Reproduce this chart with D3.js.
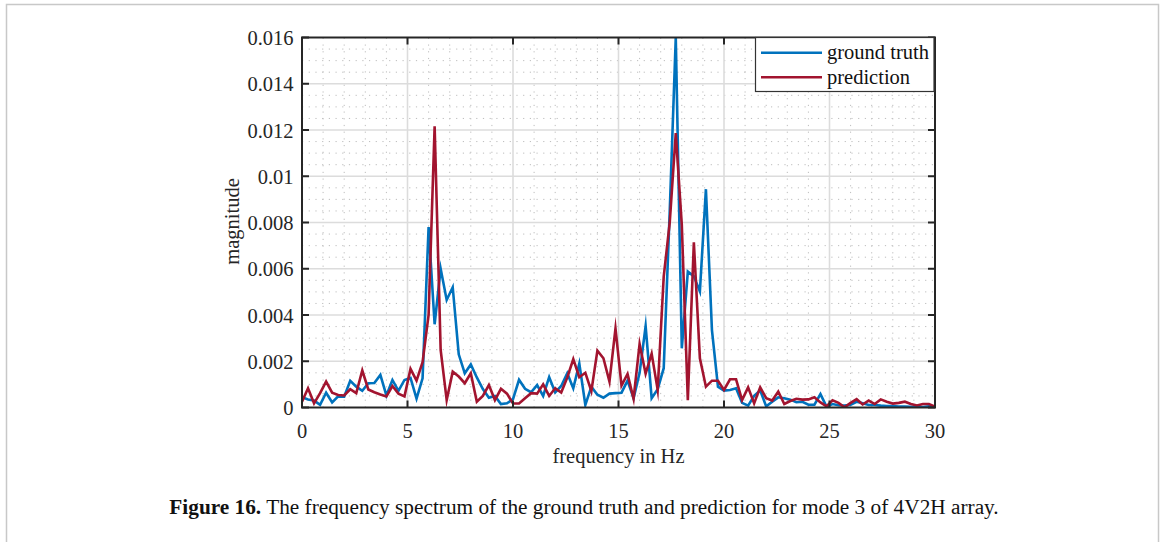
<!DOCTYPE html>
<html>
<head>
<meta charset="utf-8">
<script src="https://cdn.jsdelivr.net/npm/d3@7"></script>
<style>
  body { margin: 0; background: #fff; }
  svg { display: block; font-family: "Liberation Serif", "DejaVu Serif", serif; }
</style>
</head>
<body>
<svg id="canvas" width="1165" height="542"></svg>
<script>
// magnitude readings, in units of 1e-3, one per frequency bin
const groundTruth = [
  0.45, 0.35, 0.3, 0.12, 0.64, 0.22, 0.48, 0.47, 1.15, 0.9,
  0.72, 1.05, 1.06, 1.41, 0.52, 1.19, 0.72, 1.19, 1.28, 0.38,
  1.26, 7.8, 3.6, 6.0, 4.65, 5.2, 2.3, 1.48, 1.86, 1.3,
  0.8, 0.42, 0.5, 0.15, 0.18, 0.36, 1.2, 0.81, 0.66, 0.97,
  0.5, 1.31, 0.65, 0.93, 1.48, 0.83, 1.9, 0.11, 0.9, 0.55,
  0.42, 0.6, 0.62, 0.64, 1.16, 0.4, 1.5, 3.52, 0.4, 0.79,
  1.7, 8.5, 16.0, 2.56, 5.88, 5.67, 5.02, 9.44, 3.35, 0.9,
  0.73, 0.76, 0.83, 0.2, 0.08, 0.5, 0.74, 0.05, 0.25, 0.44,
  0.4, 0.34, 0.23, 0.25, 0.12, 0.12, 0.58, 0.04, 0.15, 0.1,
  0.08, 0.12, 0.25, 0.18, 0.11, 0.11, 0.08, 0.06, 0.06, 0.04,
  0.04, 0.03, 0.03, 0.02, 0.05, 0.01
];
const prediction = [
  0.25, 0.83, 0.18, 0.62, 1.12, 0.64, 0.54, 0.52, 0.79, 0.62,
  1.6, 0.78, 0.66, 0.56, 0.48, 0.93, 0.6, 0.48, 1.67, 1.16,
  1.96, 4.0, 12.16, 2.49, 0.32, 1.55, 1.34, 1.05, 1.48, 0.25,
  0.5, 0.97, 0.32, 0.81, 0.6, 0.17, 0.17, 0.4, 0.62, 0.6,
  1.0, 0.5, 0.83, 0.65, 1.3, 2.09, 1.31, 1.5, 0.71, 2.46,
  2.13, 1.12, 3.42, 0.95, 1.45, 0.38, 2.75, 1.46, 2.33, 0.76,
  5.66, 8.0, 11.87, 7.9, 0.32, 7.14, 2.13, 0.9, 1.16, 1.16,
  0.76, 1.22, 1.22, 0.32, 0.87, 0.18, 0.87, 0.4, 0.3, 0.69,
  0.15, 0.28, 0.38, 0.34, 0.35, 0.44, 0.22, 0.05, 0.31, 0.2,
  0.01, 0.2, 0.36, 0.13, 0.3, 0.15, 0.35, 0.25, 0.17, 0.2,
  0.25, 0.15, 0.09, 0.15, 0.15, 0.04
];
const freqStep = 30 / 105; // Hz between bins
const xTicks = [0, 5, 10, 15, 20, 25, 30];
const yTicks = [0, 0.002, 0.004, 0.006, 0.008, 0.01, 0.012, 0.014, 0.016];
const seriesNames = ['ground truth', 'prediction'];
const seriesColors = ['#0072BD', '#A2142F'];

const svg = d3.select('#canvas');
const fontSize = 20.5;

// figure frame
svg.append('rect')
  .attr('x', 6.5).attr('y', 4.5)
  .attr('width', 1152).attr('height', 560)
  .attr('fill', 'none')
  .attr('stroke', '#c8c8c8')
  .attr('stroke-width', 1.5);

const x = d3.scaleLinear().domain([0, 30]).range([302, 935]);
const y = d3.scaleLinear().domain([0, 0.016]).range([407.5, 37.5]);

// minor grid
const grid = svg.append('g');
grid.selectAll('.minor-x')
  .data(d3.range(31).filter((f) => f % 5 !== 0))
  .enter().append('line')
  .attr('x1', (f) => x(f)).attr('x2', (f) => x(f))
  .attr('y1', y(0)).attr('y2', y(0.016))
  .attr('stroke', '#bdbdbd').attr('stroke-width', 1)
  .attr('stroke-dasharray', '1.2,5.5');
grid.selectAll('.minor-y')
  .data(d3.range(33).map((i) => i * 0.0005).filter((v, i) => i % 4 !== 0))
  .enter().append('line')
  .attr('x1', x(0)).attr('x2', x(30))
  .attr('y1', (v) => y(v)).attr('y2', (v) => y(v))
  .attr('stroke', '#bdbdbd').attr('stroke-width', 1)
  .attr('stroke-dasharray', '1.2,5.5');

// major grid
grid.selectAll('.major-x')
  .data(xTicks.slice(1, -1))
  .enter().append('line')
  .attr('x1', (f) => x(f)).attr('x2', (f) => x(f))
  .attr('y1', y(0)).attr('y2', y(0.016))
  .attr('stroke', '#dcdcdc').attr('stroke-width', 1.6);
grid.selectAll('.major-y')
  .data(yTicks.slice(1, -1))
  .enter().append('line')
  .attr('x1', x(0)).attr('x2', x(30))
  .attr('y1', (v) => y(v)).attr('y2', (v) => y(v))
  .attr('stroke', '#dcdcdc').attr('stroke-width', 1.6);

// series lines
svg.append('clipPath').attr('id', 'plot-clip')
  .append('rect')
  .attr('x', x(0)).attr('y', y(0.016) - 1)
  .attr('width', x(30) - x(0)).attr('height', y(0) - y(0.016) + 1);

const line = d3.line()
  .x((d, i) => x(i * freqStep))
  .y((d) => y(d / 1000));

[groundTruth, prediction].forEach((series, s) => {
  svg.append('path')
    .datum(series)
    .attr('clip-path', 'url(#plot-clip)')
    .attr('fill', 'none')
    .attr('stroke', seriesColors[s])
    .attr('stroke-width', 2.6)
    .attr('stroke-linejoin', 'miter')
    .attr('stroke-miterlimit', 10)
    .attr('d', line);
});

// axes box and inward ticks
const axisColor = '#262626';
const tickLen = 7;
const axes = svg.append('g');
axes.append('rect')
  .attr('x', x(0)).attr('y', y(0.016))
  .attr('width', x(30) - x(0)).attr('height', y(0) - y(0.016))
  .attr('fill', 'none').attr('stroke', axisColor).attr('stroke-width', 2);

axes.selectAll('.xt')
  .data(xTicks)
  .enter().append('g')
  .each(function (f) {
    const g = d3.select(this);
    g.append('line')
      .attr('x1', x(f)).attr('x2', x(f))
      .attr('y1', y(0)).attr('y2', y(0) - tickLen)
      .attr('stroke', axisColor).attr('stroke-width', 2);
    g.append('line')
      .attr('x1', x(f)).attr('x2', x(f))
      .attr('y1', y(0.016)).attr('y2', y(0.016) + tickLen)
      .attr('stroke', axisColor).attr('stroke-width', 2);
    g.append('text')
      .attr('x', x(f)).attr('y', 437.5)
      .attr('text-anchor', 'middle')
      .attr('font-size', fontSize)
      .attr('fill', '#262626')
      .text(f);
  });

axes.selectAll('.yt')
  .data(yTicks)
  .enter().append('g')
  .each(function (v) {
    const g = d3.select(this);
    g.append('line')
      .attr('x1', x(0)).attr('x2', x(0) + tickLen)
      .attr('y1', y(v)).attr('y2', y(v))
      .attr('stroke', axisColor).attr('stroke-width', 2);
    g.append('line')
      .attr('x1', x(30)).attr('x2', x(30) - tickLen)
      .attr('y1', y(v)).attr('y2', y(v))
      .attr('stroke', axisColor).attr('stroke-width', 2);
    g.append('text')
      .attr('x', 293.5).attr('y', y(v) + 7.5)
      .attr('text-anchor', 'end')
      .attr('font-size', fontSize)
      .attr('fill', '#262626')
      .text(v === 0 ? '0' : String(v));
  });

// axis labels
svg.append('text')
  .attr('x', (x(0) + x(30)) / 2).attr('y', 463)
  .attr('text-anchor', 'middle')
  .attr('font-size', fontSize)
  .attr('fill', '#262626')
  .text('frequency in Hz');

svg.append('text')
  .attr('transform', 'translate(239,' + (y(0.008) - 1) + ') rotate(-90)')
  .attr('text-anchor', 'middle')
  .attr('font-size', fontSize)
  .attr('fill', '#262626')
  .text('magnitude');

// legend
const legend = svg.append('g');
legend.append('rect')
  .attr('x', 755.5).attr('y', 37.5)
  .attr('width', 178.5).attr('height', 54)
  .attr('fill', '#fff')
  .attr('stroke', '#333').attr('stroke-width', 1.2);
seriesNames.forEach((name, i) => {
  const ly = 52.7 + i * 24.6;
  legend.append('line')
    .attr('x1', 761).attr('x2', 822)
    .attr('y1', ly).attr('y2', ly)
    .attr('stroke', seriesColors[i]).attr('stroke-width', 2.6);
  legend.append('text')
    .attr('x', 827).attr('y', ly + 6.5)
    .attr('font-size', fontSize)
    .attr('fill', '#111')
    .text(name);
});

// caption
const caption = svg.append('text')
  .attr('x', 584).attr('y', 514)
  .attr('text-anchor', 'middle')
  .attr('font-size', 21.3)
  .attr('fill', '#111');
caption.append('tspan').attr('font-weight', 'bold').text('Figure 16.');
caption.append('tspan')
  .text(' The frequency spectrum of the ground truth and prediction for mode 3 of 4V2H array.');
</script>
</body>
</html>
